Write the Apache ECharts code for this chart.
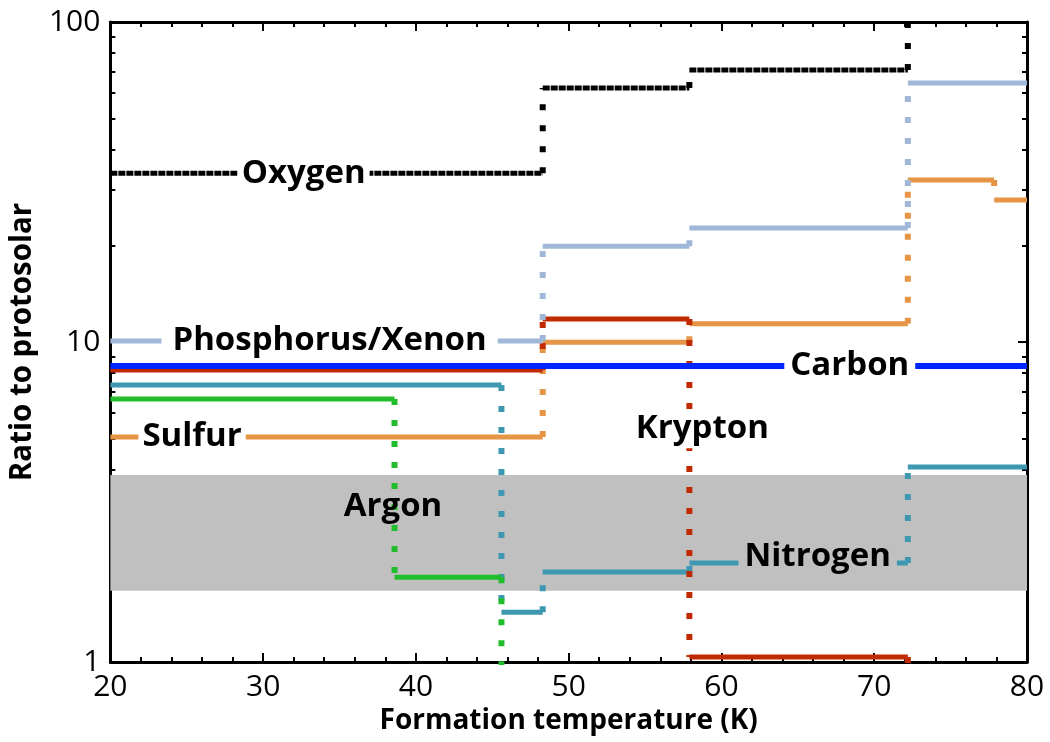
<!DOCTYPE html>
<html>
<head>
<meta charset="utf-8">
<script src="https://cdn.jsdelivr.net/npm/echarts@6/dist/echarts.min.js"></script>
<style>
html,body{margin:0;padding:0;background:#fff;}
#chart{width:1050px;height:742px;}
</style>
</head>
<body>
<div id="chart"></div>
<script>
// ---- data ----
const xTickLabels = [20, 30, 40, 50, 60, 70, 80];
const yMinorTicks = [2, 3, 4, 5, 6, 7, 8, 9, 20, 30, 40, 50, 60, 70, 80, 90];

// step functions: breakpoints (K) and level values between them
const oxygenT   = [20, 48.3, 57.9, 72.2, 80];
const oxygenV   = [33.7, 62.2, 70.8, 200];
const phosT     = [20, 48.3, 57.9, 72.2, 80];
const phosV     = [10.07, 19.9, 22.7, 64.5];
const carbonT   = [20, 80];
const carbonV   = [8.41];
const kryptonT  = [20, 48.3, 57.9, 72.2, 80];
const kryptonV  = [8.18, 11.8, 1.036, 0.5];
const sulfurT   = [20, 48.3, 57.9, 72.2, 77.85, 80];
const sulfurV   = [5.05, 9.98, 11.4, 32.1, 27.8];
const nitrogenT = [20, 45.6, 48.3, 57.9, 72.2, 80];
const nitrogenV = [7.34, 1.43, 1.91, 2.04, 4.07];
const argonT    = [20, 38.6, 45.6, 80];
const argonV    = [6.63, 1.84, 0.5];

// shaded band (ratio range)
const bandLow = 1.67, bandHigh = 3.84;

// text labels placed in data coordinates
const labelNames = ['Oxygen', 'Phosphorus/Xenon', 'Carbon', 'Sulfur', 'Krypton', 'Argon', 'Nitrogen'];
const labelX     = [32.65, 34.35, 68.4, 25.35, 58.75, 38.5, 66.3];
const labelY     = [33.7, 10.07, 8.41, 5.05, 5.36, 3.05, 2.14];

// ---- helpers ----
function horiz(T, V) {
  const d = [];
  for (let i = 0; i < V.length; i++) {
    d.push([T[i], V[i]], [T[i + 1], V[i]], [T[i + 1], null]);
  }
  return d;
}
function vert(T, V) {
  const d = [];
  for (let i = 0; i < V.length - 1; i++) {
    d.push([T[i + 1], V[i]], [T[i + 1], V[i + 1]], [T[i + 1], null]);
  }
  return d;
}

const elements = [
  {name: 'Nitrogen', T: nitrogenT, V: nitrogenV, color: '#3e98b1', width: 5},
  {name: 'Argon', T: argonT, V: argonV, color: '#22bd2c', width: 5},
  {name: 'Sulfur', T: sulfurT, V: sulfurV, color: '#e59545', width: 5},
  {name: 'Krypton', T: kryptonT, V: kryptonV, color: '#c12a00', width: 5},
  {name: 'Phosphorus/Xenon', T: phosT, V: phosV, color: '#a0b7d7', width: 5},
  {name: 'Carbon', T: carbonT, V: carbonV, color: '#0026ff', width: 6},
  {name: 'Oxygen', T: oxygenT, V: oxygenV, color: '#000000', width: 5, hdash: [7, 1]}
];

const series = [];
series.push({
  type: 'line', data: [], silent: true, z: 1,
  markArea: {
    silent: true,
    itemStyle: {color: '#c0c0c0'},
    data: [[{xAxis: 20, yAxis: bandLow}, {xAxis: 80, yAxis: bandHigh}]]
  }
});
elements.forEach((e, k) => {
  series.push({
    type: 'line', name: e.name + ' v', data: vert(e.T, e.V), showSymbol: false, symbol: 'none',
    connectNulls: false, silent: true, z: 2 + k, animation: false,
    lineStyle: {color: e.color, width: e.width + 1, type: [6, 15], cap: 'butt'}
  });
  series.push({
    type: 'line', name: e.name, data: horiz(e.T, e.V), showSymbol: false, symbol: 'none',
    connectNulls: false, silent: true, z: 2 + k, animation: false,
    lineStyle: {color: e.color, width: e.width, type: e.hdash || 'solid', cap: 'butt'}
  });
});

const labelPad = {
  'Oxygen': [0, 4], 'Phosphorus/Xenon': [0, 11], 'Carbon': [0, 6], 'Sulfur': [0, 4],
  'Krypton': [2, 4], 'Argon': [0, 0], 'Nitrogen': [0, 6]
};
const labelBg = {
  'Oxygen': '#ffffff', 'Phosphorus/Xenon': '#ffffff', 'Carbon': '#ffffff', 'Sulfur': '#ffffff',
  'Krypton': '#ffffff', 'Argon': 'transparent', 'Nitrogen': '#c0c0c0'
};
series.push({
  type: 'scatter', symbolSize: 0, z: 50, silent: true, animation: false,
  itemStyle: {color: '#000000', opacity: 1},
  data: labelNames.map((n, i) => ({
    value: [labelX[i], labelY[i]], name: n,
    label: {backgroundColor: labelBg[n], padding: labelPad[n]}
  })),
  label: {
    show: true, position: 'inside', formatter: p => p.name, opacity: 1,
    color: '#000000', textBorderWidth: 0, fontFamily: 'Open Sans', fontWeight: 'bold',
    fontSize: 33, lineHeight: 35
  }
});

const axisFont = {color: '#000', fontFamily: 'Open Sans', fontSize: 30};
const option = {
  animation: false,
  backgroundColor: '#fff',
  grid: {left: 107, right: 23, top: 22, bottom: 80, containLabel: false},
  xAxis: [
    {
      type: 'value', min: 20, max: 80, interval: 10, position: 'bottom',
      name: 'Formation temperature (K)', nameLocation: 'middle', nameGap: 40,
      nameTextStyle: {color: '#000', fontFamily: 'Open Sans', fontWeight: 'bold', fontSize: 28},
      axisLine: {show: true, onZero: false, lineStyle: {color: '#000', width: 3}},
      axisTick: {show: true, inside: true, length: 9, lineStyle: {color: '#000', width: 2}},
      minorTick: {show: true, splitNumber: 5, length: 5, lineStyle: {color: '#000', width: 2}},
      axisLabel: Object.assign({margin: 10, formatter: v => xTickLabels.includes(v) ? String(v) : ''}, axisFont),
      splitLine: {show: false}
    },
    {
      type: 'value', min: 20, max: 80, interval: 10, position: 'top',
      axisLine: {show: true, onZero: false, lineStyle: {color: '#000', width: 3}},
      axisTick: {show: true, inside: true, length: 9, lineStyle: {color: '#000', width: 2}},
      minorTick: {show: true, splitNumber: 5, length: 5, lineStyle: {color: '#000', width: 2}},
      axisLabel: {show: false}, splitLine: {show: false}
    }
  ],
  yAxis: [
    {
      type: 'log', logBase: 10, min: 1, max: 100, position: 'left',
      name: 'Ratio to protosolar', nameLocation: 'middle', nameGap: 63, nameRotate: 90,
      nameTextStyle: {color: '#000', fontFamily: 'Open Sans', fontWeight: 'bold', fontSize: 29.5},
      axisLine: {show: true, onZero: false, lineStyle: {color: '#000', width: 3}},
      axisTick: {show: true, inside: true, length: 9, lineStyle: {color: '#000', width: 2}},
      axisLabel: Object.assign({margin: 10}, axisFont),
      splitLine: {show: false}
    },
    {
      type: 'log', logBase: 10, min: 1, max: 100, position: 'left',
      axisLine: {show: false},
      axisTick: {show: true, inside: true, length: 5, customValues: yMinorTicks, lineStyle: {color: '#000', width: 2}},
      axisLabel: {show: false}, splitLine: {show: false}
    },
    {
      type: 'log', logBase: 10, min: 1, max: 100, position: 'right',
      axisLine: {show: true, onZero: false, lineStyle: {color: '#000', width: 3}},
      axisTick: {show: true, inside: true, length: 9, lineStyle: {color: '#000', width: 2}},
      axisLabel: {show: false}, splitLine: {show: false}
    },
    {
      type: 'log', logBase: 10, min: 1, max: 100, position: 'right',
      axisLine: {show: false},
      axisTick: {show: true, inside: true, length: 5, customValues: yMinorTicks, lineStyle: {color: '#000', width: 2}},
      axisLabel: {show: false}, splitLine: {show: false}
    }
  ],
  series: series
};

const chart = echarts.init(document.getElementById('chart'), null, {renderer: 'canvas'});
chart.setOption(option);
</script>
</body>
</html>
